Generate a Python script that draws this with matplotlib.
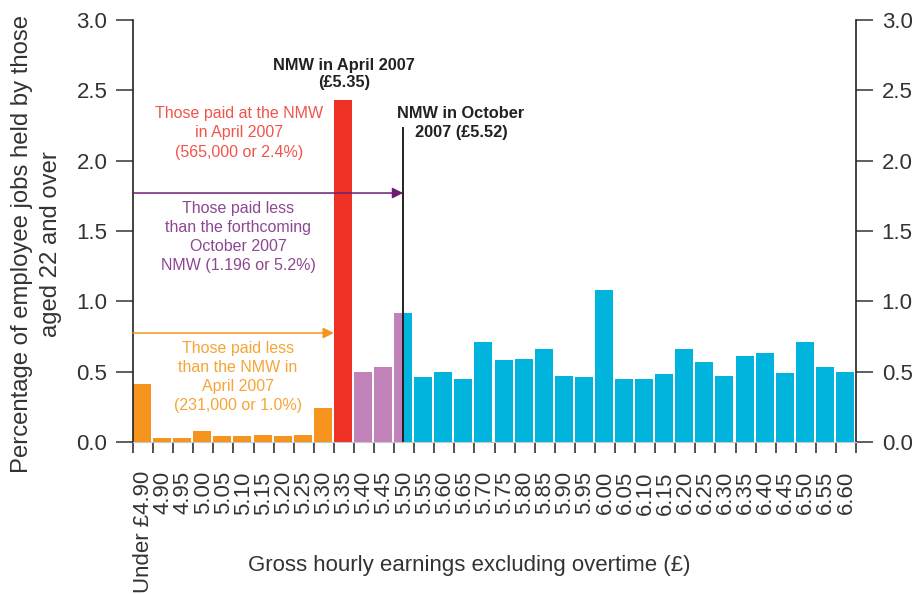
import numpy as np
import matplotlib
matplotlib.use("Agg")
import matplotlib.pyplot as plt

plt.rcParams["font.family"] = ["Liberation Sans", "DejaVu Sans"]

# ---- data ----
bands = ["Under £4.90", "4.90", "4.95", "5.00", "5.05", "5.10", "5.15", "5.20", "5.25", "5.30",
         "5.35", "5.40", "5.45", "5.50", "5.55", "5.60", "5.65", "5.70", "5.75", "5.80",
         "5.85", "5.90", "5.95", "6.00", "6.05", "6.10", "6.15", "6.20", "6.25", "6.30",
         "6.35", "6.40", "6.45", "6.50", "6.55", "6.60"]
share = [0.41, 0.03, 0.03, 0.08, 0.04, 0.04, 0.05, 0.04, 0.05, 0.24,
         2.43, 0.50, 0.53, 0.92, 0.46, 0.50, 0.45, 0.71, 0.58, 0.59,
         0.66, 0.47, 0.46, 1.08, 0.45, 0.45, 0.48, 0.66, 0.57, 0.47,
         0.61, 0.63, 0.49, 0.71, 0.53, 0.50]
n_below = 10        # bands below the April 2007 NMW
i_april = 10        # band of the April 2007 NMW (£5.35)
i_oct = 13          # band holding the October 2007 NMW (£5.52)
share_below_oct = 1.77   # height of the purple arrow
share_below_apr = 0.775  # height of the orange arrow
oct_line_top = 2.23

ORANGE, RED, PURPLE, CYAN = "#F7941D", "#EE3124", "#C082B9", "#00B4DE"
INK = "#333333"

fig = plt.figure(figsize=(9.16, 5.95), dpi=100)
ax = fig.add_axes([133 / 916, 1 - 442 / 595, 723 / 916, 422 / 595])

w = 0.9
x = np.arange(len(share))
cols = [ORANGE] * n_below + [RED] + [PURPLE] * (i_oct - i_april - 1) + [None] + [CYAN] * (len(share) - i_oct - 1)
for xi, h, c in zip(x, share, cols):
    if c is None:
        # split band: part below Oct NMW purple, rest cyan
        ax.bar(xi, h, width=w / 2, align="edge", color=PURPLE, lw=0)
        ax.bar(xi + w / 2, h, width=w / 2, align="edge", color=CYAN, lw=0)
    else:
        ax.bar(xi, h, width=w, align="edge", color=c, lw=0)

x_oct = i_oct + w / 2
ax.plot([x_oct, x_oct], [0, oct_line_top], color="#222222", lw=1.4, zorder=5)

ax.annotate("", xy=(x_oct, share_below_oct), xytext=(0, share_below_oct),
            arrowprops=dict(arrowstyle="-|>", color="#6E1E74", lw=1.1, mutation_scale=16, shrinkA=0, shrinkB=0))
ax.annotate("", xy=(i_april, share_below_apr), xytext=(0, share_below_apr),
            arrowprops=dict(arrowstyle="-|>", color=ORANGE, lw=1.1, mutation_scale=16, shrinkA=0, shrinkB=0))

# annotations (positions given in pixels of the 916x595 canvas)
def fx(px):
    return (px - 133) / (723 / 36)

def fy(py):
    return (442 - py) / (422 / 3)

ax.text(fx(344), fy(74), "NMW in April 2007\n(£5.35)", ha="center", va="center",
        fontsize=11.8, fontweight="bold", color="#222222", linespacing=1.2)
ax.text(fx(461), fy(123), "NMW in October\n2007 (£5.52)", ha="center", va="center",
        fontsize=11.8, fontweight="bold", color="#222222", linespacing=1.25)
ax.text(fx(239), fy(133), "Those paid at the NMW\nin April 2007\n(565,000 or 2.4%)", ha="center", va="center",
        fontsize=11.5, color="#F0554B", linespacing=1.34)
ax.text(fx(238), fy(237), "Those paid less\nthan the forthcoming\nOctober 2007\nNMW (1.196 or 5.2%)",
        ha="center", va="center", fontsize=11.5, color="#8E4793", linespacing=1.34)
ax.text(fx(238), fy(377), "Those paid less\nthan the NMW in\nApril 2007\n(231,000 or 1.0%)",
        ha="center", va="center", fontsize=11.5, color="#F8A437", linespacing=1.34)

# axes styling
ax.set_xlim(0, len(share))
ax.set_ylim(0, 3.0)
ax.set_yticks(np.arange(0, 3.01, 0.5))
ax.yaxis.set_major_formatter(matplotlib.ticker.FormatStrFormatter("%.1f"))
ax.set_xticks(np.arange(0, len(share) + 1))
ax.set_xticklabels([])
ax.set_xticks(x + 0.5, minor=True)
ax.set_xticklabels(bands, minor=True, rotation=90)
ax.tick_params(axis="x", which="major", length=8, width=1.2, color=INK)
ax.tick_params(axis="x", which="minor", length=0, pad=21, labelsize=16, labelcolor=INK)
ax.tick_params(axis="y", which="major", length=12.5, width=1.1, color=INK, pad=6,
               labelsize=16, labelcolor=INK, right=True, labelright=True)
for s in ["left", "right"]:
    ax.spines[s].set_color("#222222")
    ax.spines[s].set_linewidth(1.2)
ax.spines["top"].set_visible(False)
ax.spines["bottom"].set_color("#c8c8c8")
ax.spines["bottom"].set_linewidth(0.8)

fig.text(22 / 916, 1 - 244 / 595, "Percentage of employee jobs held by those", rotation=90,
         ha="center", va="center", fontsize=17.2, color=INK)
fig.text(51 / 916, 1 - 244 / 595, "aged 22 and over", rotation=90,
         ha="center", va="center", fontsize=17.2, color=INK)
fig.text(469 / 916, 1 - 565 / 595, "Gross hourly earnings excluding overtime (£)",
         ha="center", va="center", fontsize=16, color=INK)

fig.savefig("out.png", dpi=100)
